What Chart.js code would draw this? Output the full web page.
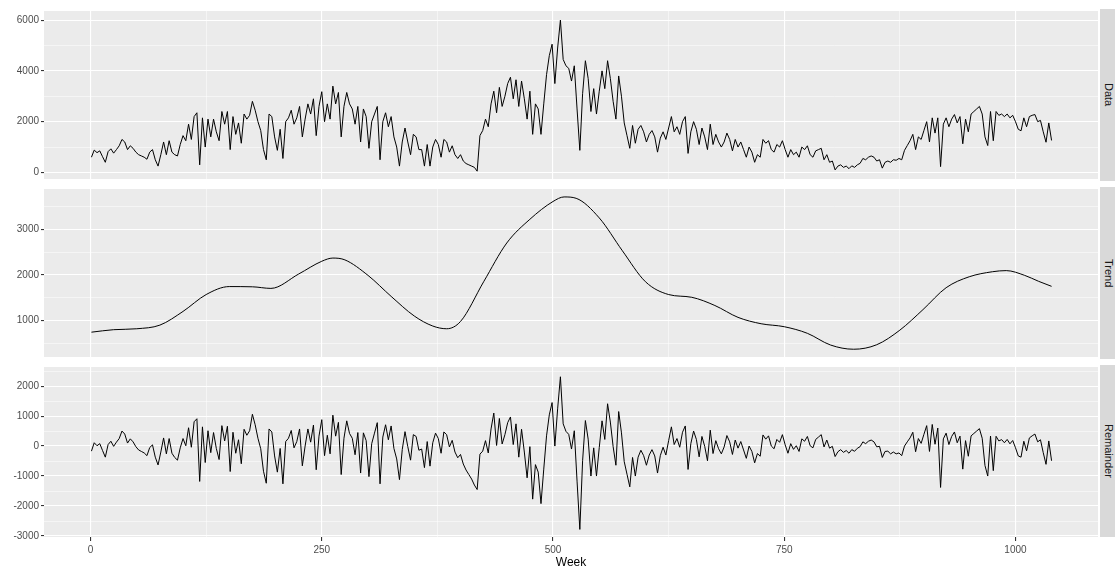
<!DOCTYPE html>
<html>
<head>
<meta charset="utf-8">
<script src="https://cdn.jsdelivr.net/npm/chart.js@4.4.1/dist/chart.umd.min.js"></script>
<style>
  html, body { margin: 0; padding: 0; background: #fff; overflow: hidden; }
  body { width: 1115px; height: 570px; position: relative; }
  .panel { position: absolute; left: 0; width: 1098px; }
  .strip { position: absolute; left: 1100px; width: 18px; height: 172px; background: #d9d9d9;
           display: flex; align-items: center; justify-content: center; }
  .strip span { writing-mode: vertical-rl; font: 11px "Liberation Sans", Arial, sans-serif; color: #1a1a1a; }
</style>
</head>
<body>
<div class="panel" style="top:3px;height:184px"><canvas id="dataChart"></canvas></div>
<div class="panel" style="top:181px;height:184px"><canvas id="trendChart"></canvas></div>
<div class="panel" style="top:359px;height:211px"><canvas id="remainderChart"></canvas></div>
<div class="strip" style="top:9px"><span>Data</span></div>
<div class="strip" style="top:187px"><span>Trend</span></div>
<div class="strip" style="top:365px"><span>Remainder</span></div>

<script>
// weekly series, one value every 3 weeks starting at week 1
const firstWeek = 1;
const weekStep = 3;

const dataValues = [
  600, 880, 780, 850, 620, 400, 820, 930, 760, 900,
  1050, 1300, 1200, 900, 1050, 950, 800, 700, 650, 600,
  520, 800, 900, 500, 250, 700, 1200, 700, 1250, 800,
  700, 650, 1100, 1450, 1250, 1900, 1300, 2200, 2350, 300,
  2150, 1000, 2100, 1400, 2100, 1600, 1250, 2400, 1900, 2400,
  900, 2200, 1500, 1950, 1150, 2300, 2100, 2250, 2800, 2450,
  2000, 1650, 900, 500, 2300, 2200, 1400, 870, 1700, 550,
  2000, 2150, 2450, 1900, 2150, 2600, 1400, 2100, 2700, 2300,
  2900, 1450, 2600, 3180, 2000, 2700, 2100, 3400, 2700, 3150,
  1400, 2600, 3150, 2700, 2500, 1900, 2600, 1200, 2500, 2200,
  950, 2000, 2300, 2600, 500, 2000, 2350, 1800, 2200, 1400,
  1000, 250, 1200, 1750, 1200, 700, 1500, 1400, 900, 900,
  250, 1100, 250, 1000, 1300, 1100, 600, 1300, 1200, 800,
  1050, 700, 550, 700, 450, 350, 300, 250, 200, 50,
  1450, 1650, 2100, 1800, 2700, 3200, 2350, 3350, 2600, 3000,
  3500, 3750, 2900, 3650, 2600, 3600, 2900, 2100, 3200, 1500,
  2700, 2500, 1500, 2700, 3850, 4600, 5050, 3500, 4900, 6000,
  4450, 4200, 4100, 3600, 4200, 2500, 870, 3100, 4400, 3700,
  2400, 3300, 2300, 3200, 4000, 3300, 4400, 3700, 2800, 2100,
  3800, 3000, 1950, 1450, 950, 1850, 1150, 1700, 1850, 1600,
  1200, 1500, 1650, 1400, 800, 1350, 1600, 1300, 1750, 2200,
  1600, 1800, 1500, 2000, 2200, 750, 1600, 2000, 1700, 1100,
  1750, 1400, 900, 1900, 1100, 1500, 1200, 1000, 1200, 1550,
  1300, 850, 1300, 1000, 1200, 900, 600, 1000, 800, 400,
  700, 600, 1300, 1150, 1250, 900, 800, 1100, 1000, 1250,
  900, 600, 900, 700, 800, 600, 1000, 900, 1050, 700,
  600, 850, 900, 950, 500, 700, 400, 450, 100, 250,
  300, 200, 250, 150, 260, 200, 300, 360, 550, 500,
  600, 650, 600, 450, 500, 170, 400, 450, 400, 500,
  480, 550, 500, 870, 1060, 1250, 1500, 900, 1400, 1300,
  1650, 2000, 1200, 2150, 1550, 2150, 230, 1900, 2150, 1800,
  2100, 2280, 1950, 2200, 1130, 2100, 1600, 2300, 2400, 2500,
  2600, 2300, 1400, 1060, 2400, 1250, 2400, 2250, 2300, 2200,
  2300, 2150, 2250, 2000, 1700, 1640, 2150, 1800, 2200, 2250,
  2280, 2000, 2050, 1600, 1190, 1950, 1260
];

const remainderValues = [
  -170, 110, 10, 80, -150, -370, 50, 160, -10, 130,
  250, 500, 400, 100, 240, 140, -20, -130, -180, -230,
  -320, -50, 40, -370, -630, -200, 270, -260, 250, -240,
  -380, -470, -60, 250, 10, 610, -40, 810, 910, -1180,
  640, -550, 510, -220, 450, -80, -450, 680, 170, 660,
  -850, 460, -240, 210, -590, 560, 360, 510, 1060, 710,
  260, -90, -840, -1240, 570, 470, -330, -870, -80, -1260,
  150, 260, 520, -60, 150, 570, -660, 0, 570, 130,
  700, -790, 330, 880, -320, 360, -260, 1030, 330, 790,
  -950, 260, 840, 420, 260, -290, 450, -900, 440, 180,
  -1020, 80, 430, 780, -1260, 300, 710, 210, 670, -80,
  -430, -1120, -120, 480, -20, -470, 380, 320, -140, -100,
  -720, 150, -670, 110, 430, 250, -240, 470, 380, -30,
  190, -200, -390, -280, -600, -800, -950, -1100, -1300, -1450,
  -270, -170, 180, -230, 570, 1100, 20, 920, 70, 380,
  780, 970, 50, 740, -370, 560, -200, -1060, -20, -1770,
  -620, -870, -1920, -770, 340, 1040, 1450, 0, 1240, 2310,
  740, 490, 390, -100, 510, -1170, -2780, -490, 850, 230,
  -1000, -60, -1000, -50, 840, 220, 1410, 800, -20, -640,
  1150, 440, -520, -940, -1360, -380, -1000, -370, -140, -320,
  -640, -300, -120, -330, -900, -320, -40, -300, 180, 640,
  50, 250, -40, 460, 670, -780, 80, 500, 220, -360,
  320, -10, -490, 530, -250, 180, -90, -260, -30, 350,
  140, -280, 200, -70, 150, -130, -410, 0, -180, -560,
  -250, -340, 370, 230, 340, 0, -90, 220, 125, 380,
  40, -240, 80, -110, 10, -180, 240, 160, 320, 10,
  -60, 220, 300, 380, -30, 200, -70, -10, -350, -190,
  -120, -210, -150, -240, -120, -175, -75, -20, 140, 80,
  160, 200, 140, -25, -10, -380, -180, -170, -260, -200,
  -260, -230, -320, 0, 140, 270, 460, -190, 250, 90,
  390, 680, -180, 720, 60, 600, -1380, 240, 430, 50,
  320, 470, 110, 330, -770, 180, -340, 340, 420, 500,
  580, 260, -650, -1000, 335, -820, 325, 170, 215, 110,
  220, 75, 185, -57, -330, -370, 160, -160, 270, 340,
  400, 140, 210, -220, -610, 170, -490
];

const trendWeeks = [1, 25, 50, 75, 100, 125, 150, 175, 195, 225, 250, 262, 275, 300, 325, 350,
  370, 385, 400, 425, 450, 475, 500, 512, 525, 550, 575, 600, 625, 650, 675, 700, 725, 750,
  775, 800, 825, 850, 875, 900, 925, 950, 975, 990, 1010, 1025, 1039];
const trendValues = [745, 800, 820, 900, 1200, 1570, 1745, 1740, 1705, 2020, 2300, 2370, 2330, 1990, 1530, 1100,
  880, 820, 980, 1850, 2700, 3220, 3610, 3710, 3680, 3250, 2530, 1850, 1570, 1510, 1330, 1070, 930, 865,
  720, 464, 371, 470, 790, 1240, 1720, 1960, 2070, 2095, 1990, 1860, 1750];

// axis ticks (majors get labels, the rest are minor grid lines)
const weekTicks = [0, 125, 250, 375, 500, 625, 750, 875, 1000];
const weekLabels = [0, 250, 500, 750, 1000];
const dataTicks = [0, 1000, 2000, 3000, 4000, 5000, 6000];
const dataLabels = [0, 2000, 4000, 6000];
const trendTicks = [500, 1000, 1500, 2000, 2500, 3000, 3500];
const trendLabels = [1000, 2000, 3000];
const remainderTicks = [-3000, -2500, -2000, -1500, -1000, -500, 0, 500, 1000, 1500, 2000, 2500];
const remainderLabels = [-3000, -2000, -1000, 0, 1000, 2000];

const dataWeeks = dataValues.map((_, i) => firstWeek + i * weekStep);

const FONT = '"Liberation Sans", Arial, sans-serif';

const panelBg = {
  id: "panelBg",
  beforeDraw(chart) {
    const { ctx, chartArea: a } = chart;
    ctx.save();
    ctx.fillStyle = "#ebebeb";
    ctx.fillRect(a.left, a.top, a.right - a.left, a.bottom - a.top);
    ctx.restore();
  },
};

function makePanel(id, weeks, values, yRange, yTicks, yLabels, bottom, smooth) {
  const ctx = document.getElementById(id).getContext("2d");
  new Chart(ctx, {
    type: "line",
    data: {
      datasets: [
        {
          data: weeks.map((w, i) => ({ x: w, y: values[i] })),
          borderColor: "#000",
          borderWidth: 1,
          pointRadius: 0,
          tension: smooth ? 0.4 : 0,
          cubicInterpolationMode: smooth ? "monotone" : "default",
        },
      ],
    },
    options: {
      responsive: true,
      maintainAspectRatio: false,
      animation: false,
      events: [],
      layout: { padding: { top: 6, bottom: bottom ? 0 : 6, left: 0, right: 0 } },
      plugins: { legend: { display: false }, tooltip: { enabled: false } },
      scales: {
        x: {
          type: "linear",
          min: -50.3,
          max: 1089.2,
          afterBuildTicks: (s) => { s.ticks = weekTicks.map((v) => ({ value: v })); },
          afterFit: (s) => { s.height = bottom ? 33 : 0; },
          border: { display: false },
          grid: {
            color: "#fff",
            lineWidth: (c) => (c.tick && weekLabels.includes(c.tick.value) ? 1.1 : 0.5),
            drawTicks: bottom,
            tickLength: 4,
            tickColor: (c) => (c.tick && weekLabels.includes(c.tick.value) ? "#333" : "rgba(0,0,0,0)"),
          },
          ticks: {
            display: bottom,
            autoSkip: false,
            maxRotation: 0,
            padding: 3,
            color: "#4d4d4d",
            font: { family: FONT, size: 10 },
            callback: (v) => (weekLabels.includes(v) ? String(v) : ""),
          },
          title: {
            display: bottom,
            text: "Week",
            color: "#000",
            font: { family: FONT, size: 12 },
            padding: 0,
          },
        },
        y: {
          min: yRange[0],
          max: yRange[1],
          afterBuildTicks: (s) => { s.ticks = yTicks.map((v) => ({ value: v })); },
          afterFit: (s) => { s.width = 44; },
          border: { display: false },
          grid: {
            color: "#fff",
            lineWidth: (c) => (c.tick && yLabels.includes(c.tick.value) ? 1.1 : 0.5),
            tickLength: 3,
            tickColor: (c) => (c.tick && yLabels.includes(c.tick.value) ? "#333" : "rgba(0,0,0,0)"),
          },
          ticks: {
            autoSkip: false,
            padding: 2,
            color: "#4d4d4d",
            font: { family: FONT, size: 10 },
            callback: (v) => (yLabels.includes(v) ? String(v) : ""),
          },
        },
      },
    },
    plugins: [panelBg],
  });
}

makePanel("dataChart", dataWeeks, dataValues, [-258, 6358], dataTicks, dataLabels, false, false);
makePanel("trendChart", trendWeeks, trendValues, [201, 3884], trendTicks, trendLabels, false, true);
makePanel("remainderChart", dataWeeks, remainderValues, [-3033, 2636], remainderTicks, remainderLabels, true, false);
</script>
</body>
</html>
